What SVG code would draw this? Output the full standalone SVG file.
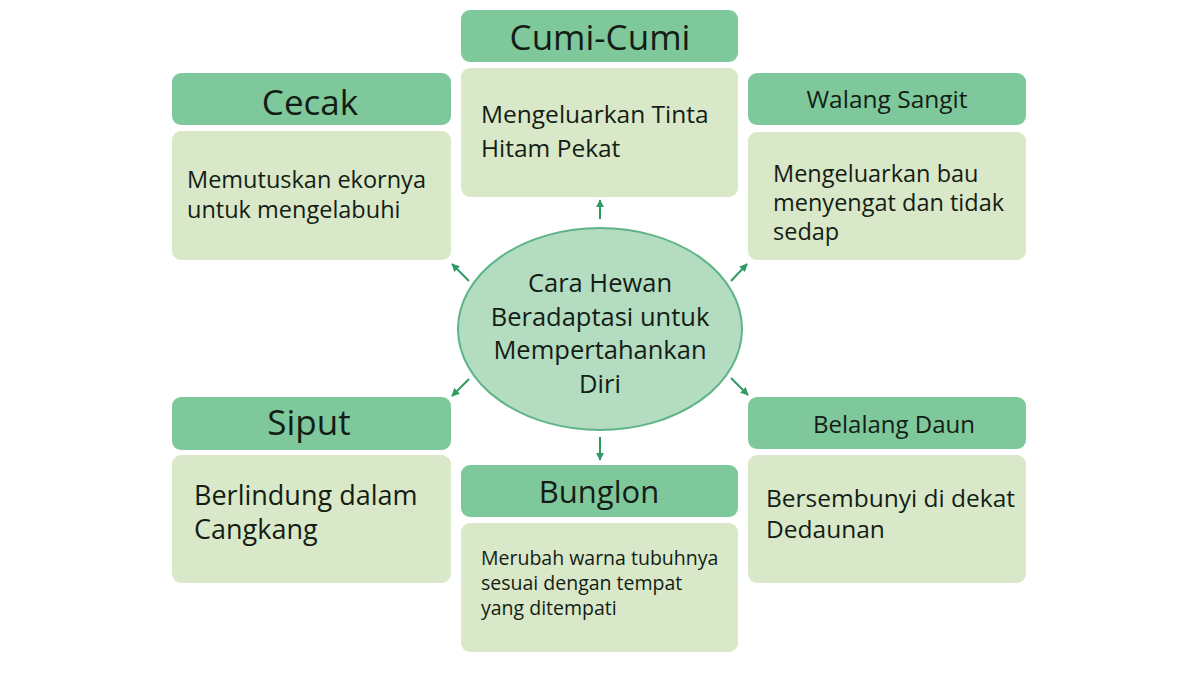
<svg xmlns="http://www.w3.org/2000/svg" width="1200" height="675" viewBox="0 0 1200 675">
<style>
.hd{fill:#7ec89c;}
.bd{fill:#d9e8c8;}
text{font-family:"Open Sans","Noto Sans",sans-serif;fill:#141d15;}
.h1{font-size:35px;text-anchor:middle;}
.h2{font-size:31px;text-anchor:middle;}
.h3{font-size:24.5px;text-anchor:middle;}
.b1{font-size:23.5px;}
.b3{font-size:27px;}
.b2{font-size:19.5px;}
.c{font-size:25.5px;text-anchor:middle;}
.arr{stroke:#2f9a63;stroke-width:2;fill:none;marker-end:url(#ah);}
</style>
<defs>
<marker id="ah" viewBox="0 0 10 10" refX="9" refY="5" markerWidth="4" markerHeight="4" orient="auto" markerUnits="strokeWidth">
<path d="M0,0 L10,5 L0,10 z" fill="#2f9a63"/>
</marker>
</defs>
<rect width="1200" height="675" fill="#ffffff"/>
<g id="connectors">
<line class="arr" x1="600" y1="219" x2="600" y2="200"/>
<line class="arr" x1="600" y1="437" x2="600" y2="460"/>
<line class="arr" x1="469" y1="281" x2="452" y2="264"/>
<line class="arr" x1="731" y1="281" x2="747" y2="264"/>
<line class="arr" x1="469" y1="379" x2="452" y2="396"/>
<line class="arr" x1="731" y1="378" x2="748" y2="395"/>
</g>
<g id="center">
<ellipse cx="600" cy="329" rx="142" ry="101" fill="#b4dcc1" stroke="#5fb487" stroke-width="2"/>
<text class="c" x="600" y="292">Cara Hewan</text>
<text class="c" x="600" y="326">Beradaptasi untuk</text>
<text class="c" x="600" y="359">Mempertahankan</text>
<text class="c" x="600" y="393">Diri</text>
</g>
<g id="cecak">
<rect class="hd" x="172" y="73" width="279" height="52" rx="9"/>
<rect class="bd" x="172" y="131" width="279" height="129" rx="9"/>
<text class="h1" x="310" y="115">Cecak</text>
<text class="b1" x="187" y="188">Memutuskan ekornya</text>
<text class="b1" x="187" y="218">untuk mengelabuhi</text>
</g>
<g id="cumi">
<rect class="hd" x="461" y="10" width="277" height="52" rx="9"/>
<rect class="bd" x="461" y="68" width="277" height="129" rx="9"/>
<text class="h1" x="600" y="50">Cumi-Cumi</text>
<text class="b1" x="481" y="123" style="font-size:24.5px">Mengeluarkan Tinta</text>
<text class="b1" x="481" y="157" style="font-size:24.5px">Hitam Pekat</text>
</g>
<g id="walang">
<rect class="hd" x="748" y="73" width="278" height="52" rx="9"/>
<rect class="bd" x="748" y="132" width="278" height="128" rx="9"/>
<text class="h3" x="887" y="108">Walang Sangit</text>
<text class="b1" x="773" y="182">Mengeluarkan bau</text>
<text class="b1" x="773" y="211">menyengat dan tidak</text>
<text class="b1" x="773" y="240">sedap</text>
</g>
<g id="siput">
<rect class="hd" x="172" y="397" width="279" height="53" rx="9"/>
<rect class="bd" x="172" y="455" width="279" height="128" rx="9"/>
<text class="h1" x="309" y="435">Siput</text>
<text class="b3" x="194" y="505">Berlindung dalam</text>
<text class="b3" x="194" y="539">Cangkang</text>
</g>
<g id="bunglon">
<rect class="hd" x="461" y="465" width="277" height="52" rx="9"/>
<rect class="bd" x="461" y="523" width="277" height="129" rx="9"/>
<text class="h2" x="599" y="503">Bunglon</text>
<text class="b2" x="481" y="565">Merubah warna tubuhnya</text>
<text class="b2" x="481" y="590">sesuai dengan tempat</text>
<text class="b2" x="481" y="615">yang ditempati</text>
</g>
<g id="belalang">
<rect class="hd" x="748" y="397" width="278" height="52" rx="9"/>
<rect class="bd" x="748" y="455" width="278" height="128" rx="9"/>
<text class="h3" x="894" y="433" style="font-size:24px">Belalang Daun</text>
<text class="b1" x="766" y="507" style="font-size:24.5px">Bersembunyi di dekat</text>
<text class="b1" x="766" y="538" style="font-size:24.5px">Dedaunan</text>
</g>
</svg>
